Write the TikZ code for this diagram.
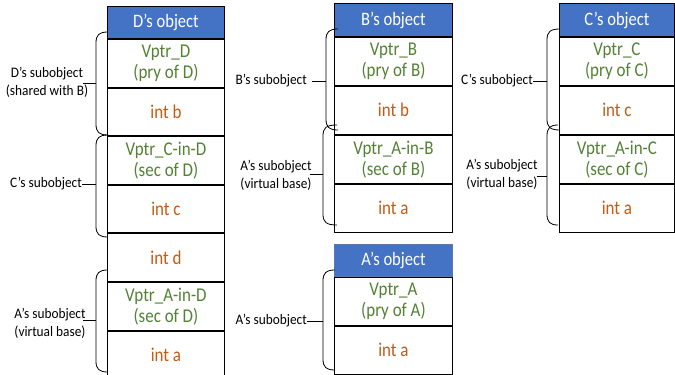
\documentclass[tikz,border=0pt]{standalone}
\usepackage{fontspec}
\setmainfont{Carlito}[FakeStretch=0.87]
\newfontfamily\lblfont{Carlito}[FakeStretch=0.92]
\definecolor{hdrblue}{HTML}{4472C4}
\definecolor{vgreen}{HTML}{548235}
\definecolor{iorange}{HTML}{C55A11}
\newcommand{\mybrace}[5]{% name, xr, yt, yb, xv
  \draw[brc] (#2,#3) .. controls (#5+3,#3) and (#5,#3+3) .. (#5,#3+11)
    -- (#5,#4-11) .. controls (#5,#4-3) and (#5+3,#4) .. (#2,#4);
  \coordinate (#1) at (#5,{(#3+#4)/2});
}
\begin{document}
\begin{tikzpicture}[x=1pt,y=-1pt,
  hdr/.style={draw=black, line width=0.9pt, fill=hdrblue, text=white, minimum height=32pt, inner sep=0pt,
    font=\fontsize{19}{21}\selectfont, anchor=north west},
  cell/.style={draw=black, line width=0.9pt, fill=white, minimum height=48pt, inner sep=0pt, align=center,
    font=\fontsize{19.5}{21}\selectfont, anchor=north},
  vp/.style={cell, text=vgreen},
  iv/.style={cell, text=iorange},
  lbl/.style={font=\lblfont\fontsize{14.5}{18}\selectfont, align=center, inner sep=0pt},
  brc/.style={draw=black, line width=0.8pt},
  conn/.style={draw=black, line width=0.9pt}
]
\useasboundingbox (0,0) rectangle (675,375);

% D's object
\begin{scope}[every node/.append style={minimum width=117pt}]
\node[hdr] (d0) at (107,6) {D’s object};
\node[vp, minimum height=47.7pt] (d1) at (d0.south) {Vptr\_D\\(pry of D)};
\node[iv, minimum height=47.7pt] (d2) at (d1.south) {int b};
\node[vp, minimum height=47.7pt] (d3) at (d2.south) {Vptr\_C-in-D\\(sec of D)};
\node[iv, minimum height=47.7pt] (d4) at (d3.south) {int c};
\node[iv, minimum height=47.7pt] (d5) at (d4.south) {int d};
\node[vp, minimum height=47.7pt] (d6) at (d5.south) {Vptr\_A-in-D\\(sec of D)};
\node[iv, minimum height=47.7pt] (d7) at (d6.south) {int a};
\end{scope}

% B's object
\begin{scope}[every node/.append style={minimum width=118pt}]
\node[hdr, minimum height=33pt] (b0) at (334,3) {B’s object};
\node[vp] (b1) at (b0.south) {Vptr\_B\\(pry of B)};
\node[iv] (b2) at (b1.south) {int b};
\node[vp] (b3) at (b2.south) {Vptr\_A-in-B\\(sec of B)};
\node[iv] (b4) at (b3.south) {int a};
\end{scope}

% C's object
\begin{scope}[every node/.append style={minimum width=115pt}]
\node[hdr, minimum height=33pt] (c0) at (559,3) {C’s object};
\node[vp] (c1) at (c0.south) {Vptr\_C\\(pry of C)};
\node[iv] (c2) at (c1.south) {int c};
\node[vp] (c3) at (c2.south) {Vptr\_A-in-C\\(sec of C)};
\node[iv] (c4) at (c3.south) {int a};
\end{scope}

% A's object
\begin{scope}[every node/.append style={minimum width=118pt}]
\node[hdr, draw=hdrblue!60!gray] (a0) at (334,244) {A’s object};
\node[vp] (a1) at (a0.south) {Vptr\_A\\(pry of A)};
\node[iv] (a2) at (a1.south) {int a};
\end{scope}

% braces
\mybrace{bD}{108}{32}{135}{96}
\mybrace{bCD}{108}{135}{237}{96}
\mybrace{bAD}{108}{270}{372}{96}
\mybrace{bB}{338}{29}{130}{326}
\mybrace{bAB}{337}{125}{225}{323}
\mybrace{bC}{560}{29}{130}{547}
\mybrace{bAC}{558}{125}{225}{547}
\mybrace{bAA}{335}{270}{370}{323}

% labels
\node[lbl] (lD) at (47,82) {D’s subobject\\(shared with B)};
\node[lbl, anchor=east] (lCD) at (82,184) {C’s subobject};
\node[lbl] (lAD) at (50,323) {A’s subobject\\(virtual base)};
\node[lbl, anchor=east] (lB) at (307,81) {B’s subobject};
\node[lbl] (lAB) at (276,175) {A’s subobject\\(virtual base)};
\node[lbl, anchor=east] (lC) at (533,81) {C’s subobject};
\node[lbl] (lAC) at (502,174) {A’s subobject\\(virtual base)};
\node[lbl, anchor=east] (lAA) at (307,321) {A’s subobject};

% connectors
\draw[conn] (83,0 |- bD) -- (bD);
\draw[conn] (lCD.east) -- (lCD.east -| bCD);
\draw[conn] (83,320) -- (bAD |- 0,320);
\draw[conn] (lB.east) ++(5,0) -- (lB.east -| bB);
\draw[conn] (310,174) -- (bAB |- 0,174);
\draw[conn] (lC.east) -- (lC.east -| bC);
\draw[conn] (537,176) -- (bAC |- 0,176);
\draw[conn] (lAA.east) -- (lAA.east -| bAA);
\end{tikzpicture}
\end{document}
